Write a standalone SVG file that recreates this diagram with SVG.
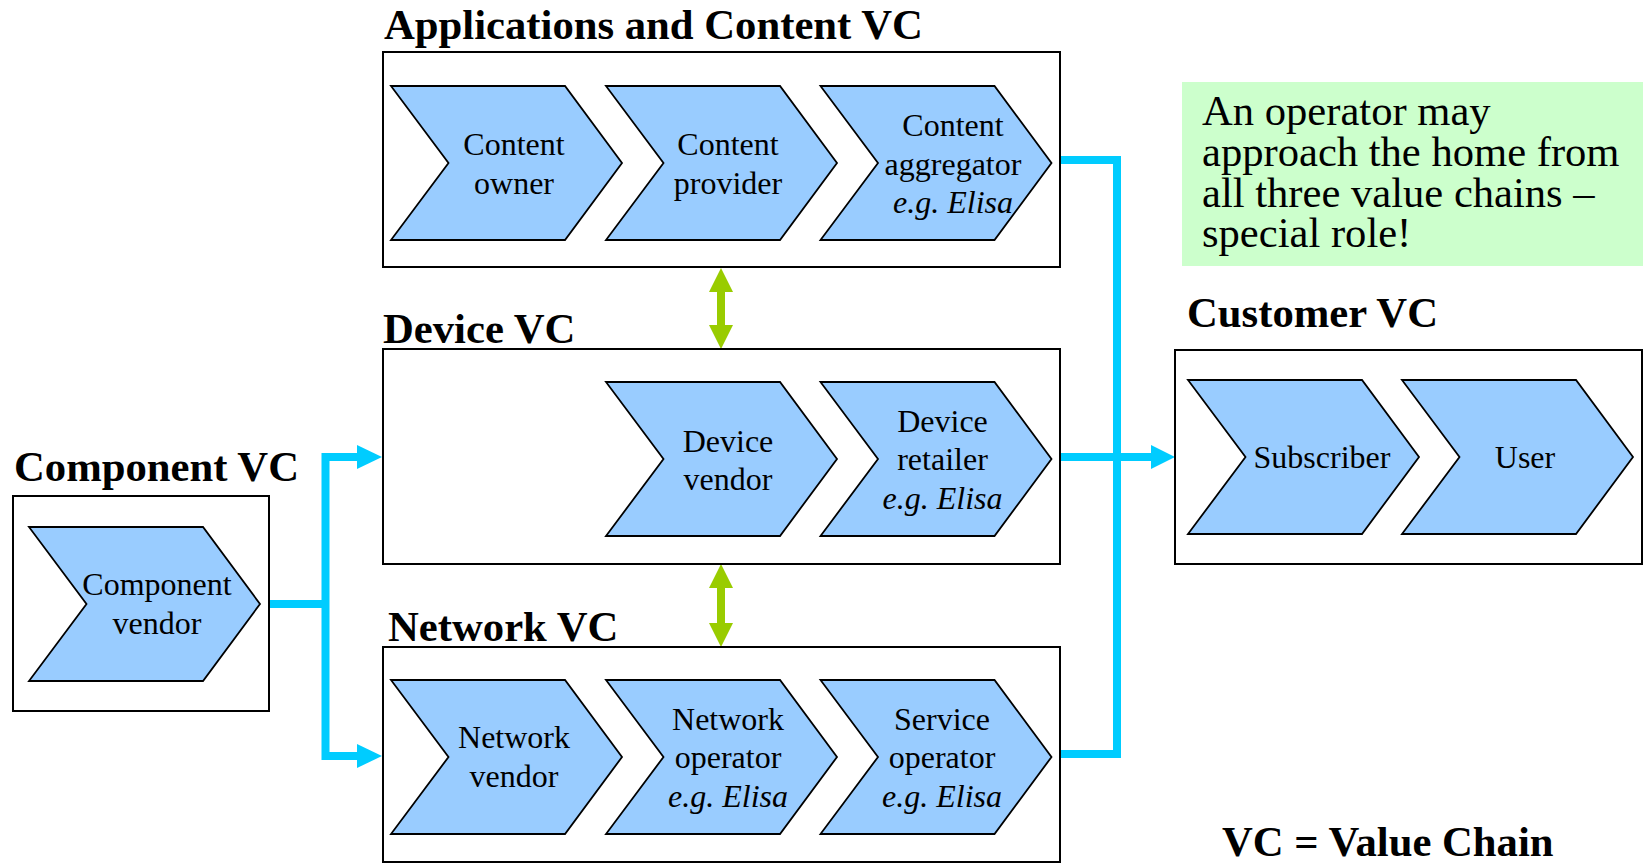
<svg xmlns="http://www.w3.org/2000/svg" xmlns:xlink="http://www.w3.org/1999/xlink" width="1645" height="864" viewBox="0 0 1645 864">
<style>
.box{fill:#fff;stroke:#000;stroke-width:2}
.chev{fill:#99ccff;stroke:#000;stroke-width:1.8;stroke-linejoin:miter}
.title{font-family:"Liberation Serif","Times New Roman",serif;font-weight:bold;font-size:42.7px;fill:#000}
.lbl{font-family:"Liberation Serif","Times New Roman",serif;font-size:32px;fill:#000;text-anchor:middle}
.it{font-style:italic}
.note{font-family:"Liberation Serif","Times New Roman",serif;font-size:42.6px;fill:#000}
.blue{fill:none;stroke:#00ccff;stroke-width:8}
.bluehead{fill:#00ccff}
.green{fill:none;stroke:#99cc00;stroke-width:8}
.greenhead{fill:#99cc00}
</style>
<defs>
<path id="chev" d="M0,0 L174,0 L231,77 L174,154 L0,154 L57.5,77 Z"/>
</defs>
<rect width="1645" height="864" fill="#fff"/>

<g id="connectors">
<polyline class="blue" points="269,604 325.5,604"/>
<polyline class="blue" points="358,457 325.5,457 325.5,756 358,756"/>
<polygon class="bluehead" points="357,445 382,457 357,469"/>
<polygon class="bluehead" points="357,744 382,756 357,768"/>
<polyline class="blue" points="1060,160 1117,160 1117,754 1060,754"/>
<line class="blue" x1="1060" y1="457" x2="1152" y2="457"/>
<polygon class="bluehead" points="1151,445 1175,457 1151,469"/>
<line class="green" x1="721" y1="290" x2="721" y2="327"/>
<polygon class="greenhead" points="709,292 721,268 733,292"/>
<polygon class="greenhead" points="709,325 721,349 733,325"/>
<line class="green" x1="721" y1="586" x2="721" y2="625"/>
<polygon class="greenhead" points="709,588 721,564 733,588"/>
<polygon class="greenhead" points="709,623 721,647 733,623"/>
</g>

<g id="app-vc">
<text class="title" x="384" y="39">Applications and Content VC</text>
<rect class="box" x="383" y="52" width="677" height="215"/>
<g id="content-owner">
<use xlink:href="#chev" class="chev" x="391" y="86"/>
<text class="lbl" x="514" y="155">Content</text>
<text class="lbl" x="514" y="193.5">owner</text>
</g>
<g id="content-provider">
<use xlink:href="#chev" class="chev" x="606" y="86"/>
<text class="lbl" x="728" y="155">Content</text>
<text class="lbl" x="728" y="193.5">provider</text>
</g>
<g id="content-aggregator">
<use xlink:href="#chev" class="chev" x="820.5" y="86"/>
<text class="lbl" x="953" y="136">Content</text>
<text class="lbl" x="953" y="174.5">aggregator</text>
<text class="lbl it" x="953" y="213">e.g. Elisa</text>
</g>
</g>

<g id="device-vc">
<text class="title" x="383" y="343">Device VC</text>
<rect class="box" x="383" y="349" width="677" height="215"/>
<g id="device-vendor">
<use xlink:href="#chev" class="chev" x="606" y="382"/>
<text class="lbl" x="728" y="451.5">Device</text>
<text class="lbl" x="728" y="490">vendor</text>
</g>
<g id="device-retailer">
<use xlink:href="#chev" class="chev" x="820.5" y="382"/>
<text class="lbl" x="942.5" y="431.5">Device</text>
<text class="lbl" x="942.5" y="470">retailer</text>
<text class="lbl it" x="942.5" y="508.5">e.g. Elisa</text>
</g>
</g>

<g id="network-vc">
<text class="title" x="388" y="641">Network VC</text>
<rect class="box" x="383" y="647" width="677" height="215"/>
<g id="network-vendor">
<use xlink:href="#chev" class="chev" x="391" y="680"/>
<text class="lbl" x="514" y="748">Network</text>
<text class="lbl" x="514" y="786.5">vendor</text>
</g>
<g id="network-operator">
<use xlink:href="#chev" class="chev" x="606" y="680"/>
<text class="lbl" x="728" y="729.5">Network</text>
<text class="lbl" x="728" y="768">operator</text>
<text class="lbl it" x="728" y="806.5">e.g. Elisa</text>
</g>
<g id="service-operator">
<use xlink:href="#chev" class="chev" x="820.5" y="680"/>
<text class="lbl" x="942" y="729.5">Service</text>
<text class="lbl" x="942" y="768">operator</text>
<text class="lbl it" x="942" y="806.5">e.g. Elisa</text>
</g>
</g>

<g id="component-vc">
<text class="title" x="14" y="481">Component VC</text>
<rect class="box" x="13" y="496" width="256" height="215"/>
<g id="component-vendor">
<use xlink:href="#chev" class="chev" x="29" y="527"/>
<text class="lbl" x="157" y="595">Component</text>
<text class="lbl" x="157" y="633.5">vendor</text>
</g>
</g>

<g id="customer-vc">
<text class="title" x="1187" y="327">Customer VC</text>
<rect class="box" x="1175" y="350" width="467" height="214"/>
<g id="subscriber">
<use xlink:href="#chev" class="chev" x="1188" y="380"/>
<text class="lbl" x="1322" y="468">Subscriber</text>
</g>
<g id="user">
<use xlink:href="#chev" class="chev" x="1402" y="380"/>
<text class="lbl" x="1525" y="468">User</text>
</g>
</g>

<g id="note">
<rect x="1182" y="82" width="461" height="184" fill="#ccffcc"/>
<text class="note"><tspan x="1202" y="125">An operator may</tspan><tspan x="1202" y="166">approach the home from</tspan><tspan x="1202" y="206.5">all three value chains –</tspan><tspan x="1202" y="247">special role!</tspan></text>
</g>

<g id="legend">
<text class="title" x="1222" y="856">VC = Value Chain</text>
</g>
</svg>
